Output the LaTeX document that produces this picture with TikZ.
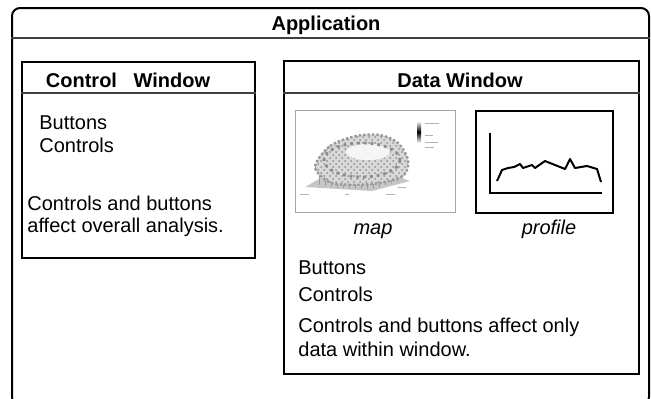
\documentclass[tikz,border=0pt]{standalone}
\usepackage{fontspec}
\setmainfont{Liberation Sans}
\usetikzlibrary{positioning, patterns, calc}

\begin{document}
\begin{tikzpicture}[
    x=0.5pt, y=-0.5pt,
    frame/.style={draw, line width=1pt, inner sep=0pt, anchor=north west},
    hdr/.style={line width=0.8pt, black!75},
    ttl/.style={font=\bfseries, inner sep=0pt, anchor=base},
    txt/.style={inner sep=0pt, anchor=base west},
    thumbcap/.style={font=\itshape, inner sep=0pt, anchor=base},
    tick/.style={gray!60, line width=0.4pt},
  ]
    \useasboundingbox (0,0) rectangle (651,398);

    % Application frame (its bottom edge runs off the page)
    \node[frame, rounded corners=4pt, minimum width=318.5pt, minimum height=198.5pt] (app) at (11,7) {};
    \coordinate (apphl) at (0,38);
    \draw[hdr] (app.west |- apphl) -- (app.east |- apphl);
    \node[ttl] (apptitle) at (326,30) {Application};

    % Control window
    \node[frame, minimum width=116.5pt, minimum height=98pt] (cw) at (21,61) {};
    \coordinate (cwhl) at (0,93);
    \draw[hdr] (cw.west |- cwhl) -- (cw.east |- cwhl);
    \node[ttl] (cwtitle) at (128,87) {Control\hspace{0.55em} Window};
    \node[txt] (cwbtn) at (39,129) {Buttons};
    \node[txt] (cwctl) at (39,152) {Controls};
    \node[txt] (cwnote1) at (27,210) {Controls and buttons};
    \node[txt] (cwnote2) at (27,232) {affect overall analysis.};

    % Data window
    \node[frame, minimum width=177.5pt, minimum height=156.5pt] (dw) at (283,60) {};
    \coordinate (dwhl) at (0,93);
    \draw[hdr] (dw.west |- dwhl) -- (dw.east |- dwhl);
    \node[ttl] (dwtitle) at (460,87) {Data Window};

    % Thumbnails
    \node[frame, draw=gray!70, line width=0.6pt, minimum width=80pt, minimum height=51pt] (mapbox) at (295,110) {};
    \node[frame, line width=0.8pt, minimum width=68.5pt, minimum height=51pt] (profbox) at (475,110) {};

    % map: surface plot
    \fill[gray!45] (305,187) -- (372,191) -- (410,181) -- (352,160) -- cycle;
    \fill[pattern=vertical lines, pattern color=gray!80] (314,168) -- (316,184) -- (340,188) -- (372,189) -- (402,180) -- (406,168) -- cycle;
    \path[fill=gray!30, postaction={pattern=crosshatch dots, pattern color=gray!85},
          postaction={draw=gray!80, densely dotted, line width=1.2pt}]
      plot[smooth cycle] coordinates {(315,167) (330,146) (356,136) (380,135) (398,143) (408,160) (403,176) (372,184) (332,183)};
    \fill[gray!8] (368,152) ellipse (22 and 8);
    \draw[gray!90, line width=1.4pt, dotted] (362,160) ellipse (38 and 17);
    \shade[top color=white, bottom color=white, middle color=black] (417,121) rectangle (421,143);
    \foreach \yy/\len in {123/14, 135/8, 142/13, 147/9}
      \draw[tick] (425,\yy) -- ++(\len,0);
    \foreach \xx/\yy/\len in {300/194/9, 345/194/4, 386/194/9, 398/187/8}
      \draw[tick] (\xx,\yy) -- ++(\len,0);

    % profile: line plot
    \draw[line width=0.7pt] (490,133) -- (490,193) -- (602,193);
    \draw[line width=1pt, line join=round] plot coordinates {(497,181) (502,170) (508,168) (514,167) (520,164) (523,168) (532,165) (535,168) (545,161) (565,169) (570,159) (575,168) (587,166) (597,169) (601,182)};

    % Captions and texts
    \node[thumbcap] (mapcap) at (373,234) {map};
    \node[thumbcap] (profcap) at (549,234) {profile};
    \node[txt] (dwbtn) at (298,274) {Buttons};
    \node[txt] (dwctl) at (298,301) {Controls};
    \node[txt] (dwnote1) at (298,332) {Controls and buttons affect only};
    \node[txt] (dwnote2) at (298,356) {data within window.};
  \end{tikzpicture}
\end{document}
